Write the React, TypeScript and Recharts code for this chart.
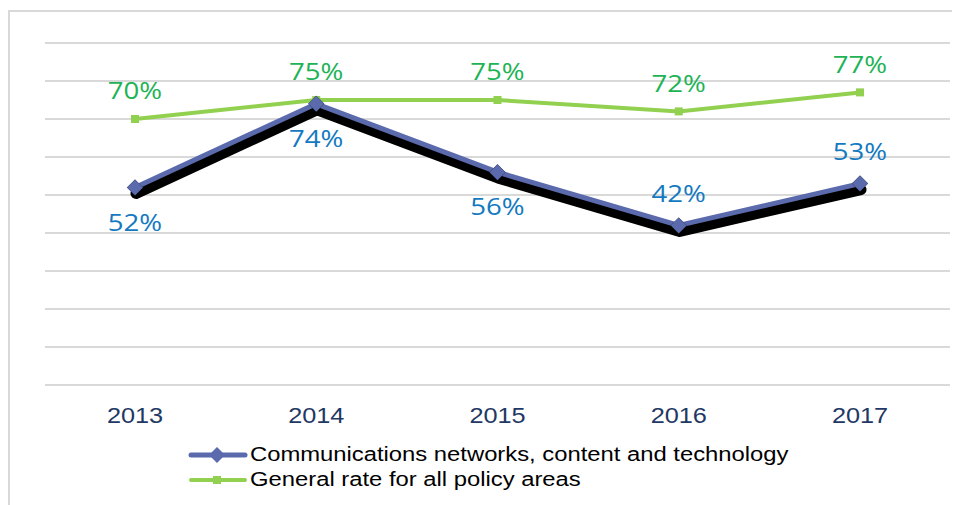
import { LineChart, Line, XAxis, YAxis, CartesianGrid, LabelList } from 'recharts';

const years = ['2013', '2014', '2015', '2016', '2017'];
const commsRate = [52, 74, 56, 42, 53];
const generalRate = [70, 75, 75, 72, 77];
const yTicks = [0, 10, 20, 30, 40, 50, 60, 70, 80, 90];

const COMMS_NAME = 'Communications networks, content and technology';
const GENERAL_NAME = 'General rate for all policy areas';

const data = years.map((year, i) => ({
  year,
  comms: commsRate[i],
  general: generalRate[i]
}));

const BLUE = '#5A6AAC';
const BLUE_TEXT = '#1479C0';
const GREEN = '#92D050';
const GREEN_TEXT = '#1DB356';
const labelFont = '"Open Sans", sans-serif';
const arial = '"Liberation Sans", Arial, sans-serif';
// the source picture is a little wider than tall, so text is stretched horizontally
const STRETCH = 1.15;

// blue labels sit under the first three points, above the last two
const commsBelow = [true, true, true, false, false];

const Diamond = (props: any) => {
  const { cx, cy, fill } = props;
  if (cx == null || cy == null) return null;
  return <polygon points={`${cx},${cy - 8} ${cx + 8},${cy} ${cx},${cy + 8} ${cx - 8},${cy}`} fill={fill} />;
};

const Square = (props: any) => {
  const { cx, cy } = props;
  if (cx == null || cy == null) return null;
  return <rect x={cx - 4} y={cy - 4} width={8} height={8} fill={GREEN} />;
};

const StretchText = ({ x, y, fill, size, family, children }: any) => (
  <text
    transform={`translate(${x},${y}) scale(${STRETCH},1)`}
    textAnchor="middle"
    dominantBaseline="central"
    fill={fill}
    fontSize={size}
    fontFamily={family}
  >
    {children}
  </text>
);

const CommsLabel = (props: any) => {
  const { x, y, value, index } = props;
  const dy = commsBelow[index] ? 34 : -33;
  return <StretchText x={x} y={y + dy} fill={BLUE_TEXT} size={24} family={labelFont}>{value}%</StretchText>;
};

const GeneralLabel = (props: any) => {
  const { x, y, value } = props;
  return <StretchText x={x} y={y - 29} fill={GREEN_TEXT} size={24} family={labelFont}>{value}%</StretchText>;
};

const YearTick = (props: any) => {
  const { x, y, payload } = props;
  return <StretchText x={x} y={y + 9} fill="#1F3864" size={22} family={arial}>{payload.value}</StretchText>;
};

function LegendRow({ color, marker, label }: { color: string; marker: 'diamond' | 'square'; label: string }) {
  return (
    <div style={{ display: 'flex', alignItems: 'center', height: 25 }}>
      <svg width={60} height={20} style={{ marginRight: 2 }}>
        <line x1={3} y1={10} x2={57} y2={10} stroke={color} strokeWidth={marker === 'diamond' ? 5 : 4} strokeLinecap="round" />
        {marker === 'diamond' ? (
          <polygon points="29,2 37,10 29,18 21,10" fill={color} />
        ) : (
          <rect x={25} y={6} width={8} height={8} fill={color} />
        )}
      </svg>
      <span style={{ display: 'inline-block', transform: 'scaleX(1.19)', transformOrigin: 'left center', whiteSpace: 'nowrap' }}>
        {label}
      </span>
    </div>
  );
}

export default function App() {
  return (
    <div style={{ position: 'relative', width: 952, height: 497, overflow: 'hidden', fontFamily: arial }}>
      <div
        style={{
          position: 'absolute',
          left: 0,
          top: 2,
          width: 1000,
          height: 600,
          borderLeft: '2px solid #d9d9d9',
          borderTop: '2px solid #d9d9d9'
        }}
      />
      <style>{`.comms-shadow { transform: translate(1px, 6px); }`}</style>
      <div style={{ position: 'absolute', left: 0, top: 0 }}>
        <LineChart width={952} height={497} data={data} margin={{ top: 35, right: 10, left: 37, bottom: 80 }}>
          <CartesianGrid vertical={false} stroke="#d9d9d9" strokeWidth={2} />
          <XAxis
            dataKey="year"
            padding={{ left: 90, right: 90 }}
            axisLine={{ stroke: '#d9d9d9', strokeWidth: 2 }}
            tickLine={false}
            height={40}
            tick={<YearTick />}
            tickMargin={16}
          />
          <YAxis hide domain={[0, 90]} ticks={yTicks} />
          <Line
            dataKey="general"
            stroke={GREEN}
            strokeWidth={4}
            dot={<Square />}
            isAnimationActive={false}
            legendType="none"
          >
            <LabelList dataKey="general" content={<GeneralLabel />} />
          </Line>
          <Line
            dataKey="comms"
            className="comms-shadow"
            stroke="#000"
            strokeWidth={11}
            strokeLinecap="round"
            strokeLinejoin="round"
            dot={<Diamond fill="#000" />}
            activeDot={false}
            isAnimationActive={false}
            legendType="none"
          />
          <Line
            dataKey="comms"
            stroke={BLUE}
            strokeWidth={5}
            strokeLinejoin="round"
            dot={<Diamond fill={BLUE} />}
            isAnimationActive={false}
            legendType="none"
          >
            <LabelList dataKey="comms" content={<CommsLabel />} />
          </Line>
        </LineChart>
      </div>
      <div style={{ position: 'absolute', left: 180, top: 434, fontSize: 20, color: '#000', lineHeight: '25px' }}>
        <LegendRow color={BLUE} marker="diamond" label={COMMS_NAME} />
        <LegendRow color={GREEN} marker="square" label={GENERAL_NAME} />
      </div>
    </div>
  );
}
